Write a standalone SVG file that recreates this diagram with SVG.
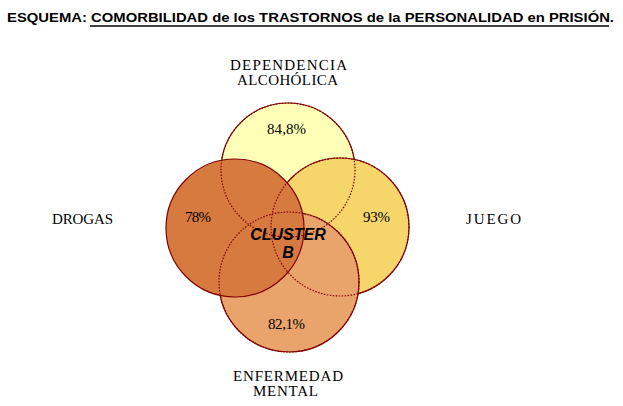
<svg xmlns="http://www.w3.org/2000/svg" width="623" height="406" viewBox="0 0 623 406">
<style>
.c{stroke:#800000;stroke-width:1.2}
.h{fill:none;stroke:#800000;stroke-width:1.2;stroke-dasharray:1.5 1.5}
.lab{font-family:"Liberation Serif","Times New Roman",serif;font-size:15px;fill:#000}
.cl{font-family:"Liberation Sans",Arial,sans-serif;font-size:16px;font-weight:bold;font-style:italic;fill:#000;text-anchor:middle}
.t{font-family:"Liberation Sans",Arial,sans-serif;font-size:13px;font-weight:bold;fill:#000}
</style>
<rect width="623" height="406" fill="#ffffff"/>
<g id="title">
<text class="t" x="7" y="22" textLength="607" lengthAdjust="spacingAndGlyphs">ESQUEMA: COMORBILIDAD de los TRASTORNOS de la PERSONALIDAD en PRISIÓN.</text>
<line x1="90" y1="26" x2="609" y2="26" stroke="#000" stroke-width="1.5"/>
</g>
<g id="alcohol"><circle class="c" cx="288" cy="170" r="67" fill="#ffffb8"/></g>
<g id="juego"><circle class="c" cx="340" cy="227" r="69" fill="#f6d66a"/></g>
<g id="mental"><circle class="c" cx="289" cy="282" r="70" fill="#e9a46c"/></g>
<g id="drogas"><circle class="c" cx="235" cy="228" r="69" fill="#d77a40"/></g>
<g id="connectors">
<circle class="h" cx="288" cy="170" r="67"/>
<circle class="h" cx="340" cy="227" r="69"/>
<circle class="h" cx="289" cy="282" r="70"/>
</g>
<g id="labels">
<text class="lab" x="230" y="70" textLength="117" lengthAdjust="spacing">DEPENDENCIA</text>
<text class="lab" x="237" y="85" textLength="101" lengthAdjust="spacing">ALCOHÓLICA</text>
<text class="lab" x="52" y="224" textLength="61" lengthAdjust="spacing">DROGAS</text>
<text class="lab" x="466" y="224" textLength="55" lengthAdjust="spacing">JUEGO</text>
<text class="lab" x="233" y="381" textLength="110" lengthAdjust="spacing">ENFERMEDAD</text>
<text class="lab" x="253" y="396" textLength="65" lengthAdjust="spacing">MENTAL</text>
<text class="lab" x="267" y="134" textLength="39" lengthAdjust="spacing">84,8%</text>
<text class="lab" x="185" y="222" textLength="26" lengthAdjust="spacing">78%</text>
<text class="lab" x="363" y="222" textLength="27" lengthAdjust="spacing">93%</text>
<text class="lab" x="268" y="329" textLength="37" lengthAdjust="spacing">82,1%</text>
<text class="cl" x="288" y="240">CLUSTER</text>
<text class="cl" x="288" y="258">B</text>
</g>
</svg>
